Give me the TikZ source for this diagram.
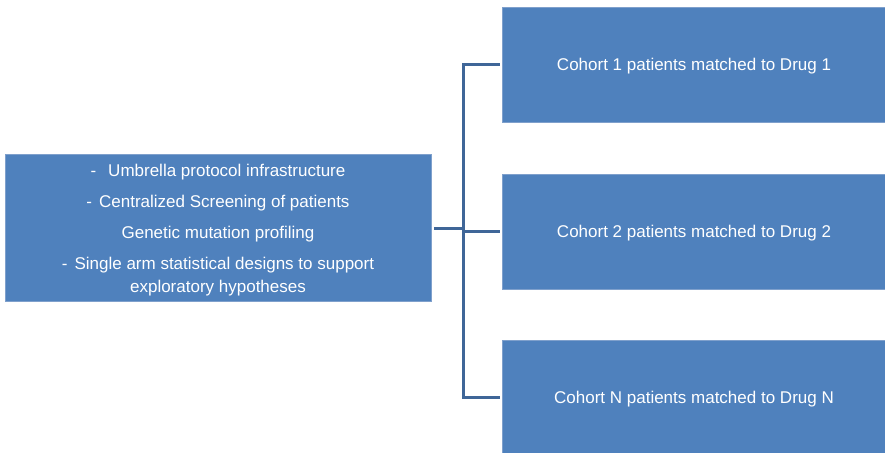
\documentclass[tikz,border=0pt]{standalone}
\usepackage{fontspec}
\setmainfont{Liberation Sans}
\definecolor{boxblue}{HTML}{4F81BD}
\definecolor{boxedge}{HTML}{7FA0CC}
\definecolor{linkblue}{HTML}{3F6698}
% taller first line to sit the text a little lower in its box
\newcommand{\toppad}{\rule{0pt}{16.5pt}}
\begin{document}
\begin{tikzpicture}[x=1pt,y=-1pt,
  panel/.style={draw=boxedge, line width=0.8pt, fill=boxblue, text=white,
    inner sep=0pt, font=\fontsize{17}{23}\selectfont, align=center},
  link/.style={draw=linkblue, line width=3pt}]
\useasboundingbox (0,0) rectangle (885,452);
\clip (0,0) rectangle (885,452);

% study infrastructure box
\node[panel, minimum width=426pt, minimum height=147pt] (hub) at (218,228)
  {\toppad-\hspace{12pt}Umbrella protocol infrastructure\\[8pt]
   -\hspace{7pt}Centralized Screening of patients\\[8pt]
   Genetic mutation profiling\\[8pt]
   -\hspace{7pt}Single arm statistical designs to support\\
   exploratory hypotheses};

% cohort boxes
\node[panel, minimum width=384pt, minimum height=115pt] (c1) at (694,64.5)
  {\toppad Cohort 1 patients matched to Drug 1};
\node[panel, minimum width=384pt, minimum height=115pt] (c2) at (694,231.5)
  {\toppad Cohort 2 patients matched to Drug 2};
\node[panel, minimum width=384pt, minimum height=115pt] (c3) at (694,397.5)
  {\toppad Cohort N patients matched to Drug N};

% bracket connectors
\coordinate (j) at (463,228);
\draw[link] ([xshift=3pt]hub.east) -- (j);
\draw[link] ([xshift=-2pt]c1.west) -- (c1.west -| j) |- ([xshift=-2pt]c3.west);
\draw[link] (j |- c2.west) -- ([xshift=-2pt]c2.west);
\end{tikzpicture}
\end{document}
